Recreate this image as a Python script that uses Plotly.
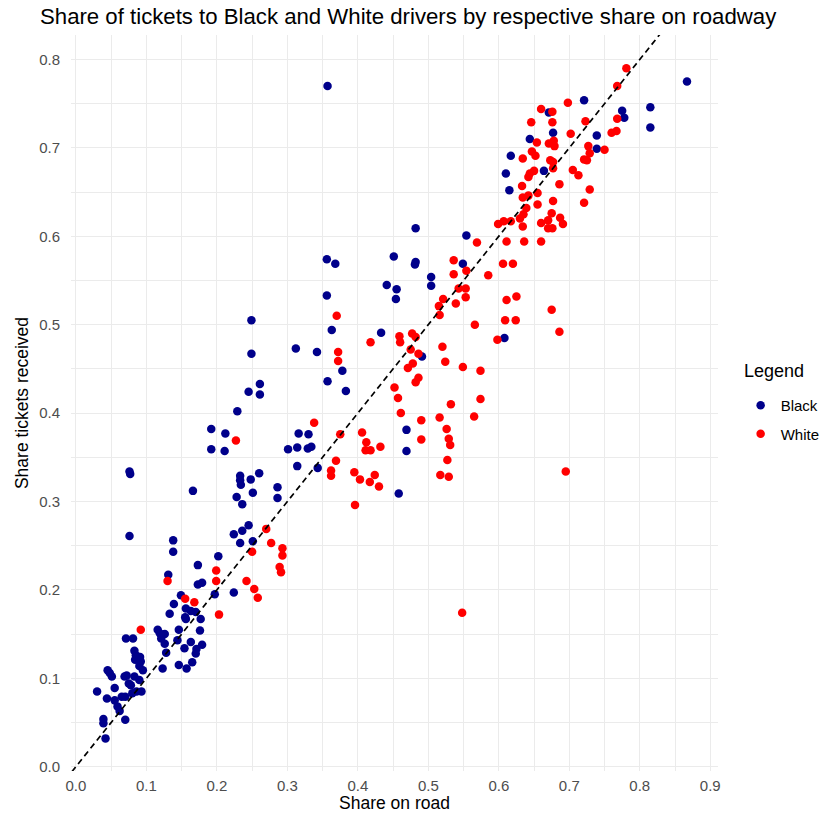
import plotly.graph_objects as go

# Black drivers: share on road vs share of tickets
black_x = [0.076, 0.138, 0.138, 0.131, 0.173, 0.173, 0.179, 0.202, 0.236, 0.245, 0.236, 0.224, 0.233, 0.251,
           0.224, 0.197, 0.149, 0.139, 0.156, 0.163, 0.170, 0.155, 0.156, 0.177, 0.133, 0.146, 0.176, 0.071,
           0.081, 0.116, 0.119, 0.126, 0.121, 0.144, 0.163, 0.179, 0.126, 0.154, 0.171, 0.170, 0.083, 0.085,
           0.084, 0.091, 0.092, 0.128, 0.090, 0.123, 0.146, 0.157, 0.165, 0.095, 0.045, 0.048, 0.051, 0.055,
           0.069, 0.072, 0.075, 0.078, 0.083, 0.090, 0.093, 0.086, 0.080, 0.070, 0.065, 0.030, 0.044, 0.055,
           0.059, 0.062, 0.070, 0.039, 0.039, 0.042,
           0.312, 0.249, 0.342, 0.378, 0.357, 0.383, 0.261, 0.245, 0.261, 0.229, 0.192, 0.212, 0.192, 0.211,
           0.316, 0.330, 0.301, 0.314, 0.329, 0.334, 0.314, 0.343, 0.166, 0.233, 0.233, 0.234, 0.248, 0.260,
           0.251, 0.228, 0.286, 0.286,
           0.482, 0.554, 0.356, 0.368, 0.451, 0.482, 0.481, 0.549, 0.504, 0.504, 0.441, 0.455, 0.454, 0.608,
           0.356, 0.363, 0.433, 0.491, 0.469, 0.469, 0.458,
           0.357, 0.249, 0.076, 0.077,
           0.867, 0.721, 0.815, 0.775, 0.778, 0.815, 0.671, 0.677, 0.644, 0.739, 0.739, 0.617, 0.664, 0.610,
           0.615]
black_y = [0.261, 0.256, 0.243, 0.217, 0.228, 0.206, 0.208, 0.238, 0.297, 0.273, 0.267, 0.263, 0.253, 0.255,
           0.197, 0.195, 0.194, 0.184, 0.179, 0.176, 0.175, 0.169, 0.167, 0.167, 0.173, 0.155, 0.154, 0.145,
           0.145, 0.155, 0.151, 0.150, 0.145, 0.143, 0.141, 0.138, 0.139, 0.134, 0.133, 0.128, 0.131, 0.126,
           0.121, 0.124, 0.119, 0.129, 0.114, 0.111, 0.115, 0.111, 0.118, 0.109, 0.109, 0.106, 0.102, 0.089,
           0.102, 0.103, 0.094, 0.092, 0.102, 0.098, 0.085, 0.085, 0.083, 0.079, 0.079, 0.085, 0.077, 0.075,
           0.068, 0.063, 0.053, 0.054, 0.049, 0.032,
           0.473, 0.467, 0.469, 0.448, 0.436, 0.425, 0.433, 0.424, 0.421, 0.402, 0.382, 0.377, 0.359, 0.357,
           0.377, 0.376, 0.359, 0.361, 0.360, 0.362, 0.340, 0.338, 0.312, 0.329, 0.324, 0.319, 0.325, 0.332,
           0.310, 0.305, 0.316, 0.304,
           0.609, 0.601, 0.574, 0.569, 0.577, 0.571, 0.568, 0.569, 0.554, 0.544, 0.545, 0.540, 0.529, 0.485,
           0.533, 0.494, 0.491, 0.464, 0.381, 0.357, 0.309,
           0.770, 0.505, 0.334, 0.331,
           0.775, 0.754, 0.746, 0.742, 0.734, 0.723, 0.740, 0.717, 0.710, 0.714, 0.699, 0.691, 0.674, 0.671,
           0.652]

# White drivers: share on road vs share of tickets
white_x = [0.130, 0.199, 0.199, 0.250, 0.242, 0.253, 0.258, 0.203, 0.155, 0.168, 0.092,
           0.372, 0.372, 0.418, 0.227, 0.338, 0.375, 0.406, 0.412, 0.411, 0.418, 0.369, 0.362, 0.362, 0.395,
           0.403, 0.417, 0.424, 0.430, 0.396, 0.270, 0.277, 0.293, 0.293, 0.289, 0.291,
           0.569, 0.606, 0.620, 0.585, 0.536, 0.536, 0.554, 0.543, 0.553, 0.553, 0.539, 0.521, 0.515, 0.516,
           0.611, 0.625, 0.609, 0.624, 0.566, 0.598, 0.370, 0.459, 0.460, 0.477, 0.482, 0.475, 0.486, 0.478,
           0.471, 0.486, 0.482, 0.520, 0.524, 0.549, 0.574, 0.574, 0.565, 0.532, 0.452, 0.457, 0.461, 0.490,
           0.516, 0.526, 0.529, 0.531, 0.490, 0.527, 0.517, 0.529, 0.432,
           0.695, 0.548, 0.675, 0.686,
           0.781, 0.768, 0.698, 0.768, 0.767, 0.760, 0.660, 0.676, 0.646, 0.676, 0.723, 0.702, 0.654, 0.671,
           0.678, 0.679, 0.750, 0.727, 0.729, 0.721, 0.725, 0.634, 0.647, 0.652, 0.673, 0.677, 0.677, 0.650,
           0.644, 0.642, 0.705, 0.713, 0.633, 0.655, 0.686, 0.729, 0.634, 0.642, 0.677, 0.721, 0.639, 0.655,
           0.635, 0.630, 0.675, 0.687, 0.691, 0.670, 0.660, 0.670, 0.676, 0.634, 0.617, 0.607, 0.599, 0.611,
           0.636, 0.660]
white_y = [0.210, 0.222, 0.210, 0.243, 0.210, 0.201, 0.191, 0.172, 0.190, 0.186, 0.155,
           0.469, 0.459, 0.480, 0.369, 0.389, 0.376, 0.378, 0.367, 0.358, 0.358, 0.346, 0.335, 0.329, 0.333,
           0.325, 0.322, 0.330, 0.317, 0.296, 0.269, 0.253, 0.247, 0.239, 0.226, 0.220,
           0.593, 0.569, 0.569, 0.556, 0.573, 0.557, 0.561, 0.541, 0.541, 0.531, 0.524, 0.529, 0.521, 0.511,
           0.528, 0.532, 0.505, 0.505, 0.500, 0.483, 0.510, 0.487, 0.480, 0.490, 0.486, 0.472, 0.467, 0.456,
           0.451, 0.440, 0.435, 0.475, 0.458, 0.452, 0.448, 0.416, 0.396, 0.410, 0.429, 0.417, 0.400, 0.392,
           0.395, 0.382, 0.371, 0.364, 0.370, 0.347, 0.330, 0.328, 0.362,
           0.334, 0.174, 0.517, 0.492,
           0.790, 0.770, 0.751, 0.733, 0.719, 0.717, 0.744, 0.741, 0.729, 0.729, 0.730, 0.716, 0.706, 0.705,
           0.708, 0.702, 0.698, 0.702, 0.694, 0.687, 0.686, 0.688, 0.696, 0.691, 0.686, 0.684, 0.677, 0.674,
           0.671, 0.667, 0.675, 0.669, 0.657, 0.649, 0.659, 0.653, 0.644, 0.646, 0.640, 0.638, 0.632, 0.636,
           0.625, 0.620, 0.626, 0.621, 0.614, 0.618, 0.615, 0.609, 0.609, 0.611, 0.617, 0.617, 0.614, 0.594,
           0.594, 0.594]

x_ticks = [0.0, 0.1, 0.2, 0.3, 0.4, 0.5, 0.6, 0.7, 0.8, 0.9]
y_ticks = [0.0, 0.1, 0.2, 0.3, 0.4, 0.5, 0.6, 0.7, 0.8]
ref_line = [-0.05, 0.95]

FONT = "Liberation Sans, Arial, sans-serif"
W, H = 829, 813

fig = go.Figure()
fig.add_trace(go.Scatter(x=black_x, y=black_y, mode="markers", name="Black", legendgroup="b",
                         marker=dict(color="#00008B", size=8.5, line=dict(width=0))))
fig.add_trace(go.Scatter(x=white_x, y=white_y, mode="markers", name="White", legendgroup="w",
                         marker=dict(color="#FF0000", size=8.5, line=dict(width=0))))
fig.add_trace(go.Scatter(x=ref_line, y=ref_line, mode="lines", showlegend=False, hoverinfo="skip",
                         line=dict(color="black", width=1.7, dash="6px,4px")))

grid = "#EBEBEB"
fig.update_layout(
    width=W, height=H,
    margin=dict(l=71, r=111, t=35, b=42, autoexpand=False),
    paper_bgcolor="white", plot_bgcolor="white",
    font=dict(family=FONT, color="black"),
    title=dict(text="Share of tickets to Black and White drivers by respective share on roadway",
               font=dict(size=22.2, color="black", family=FONT),
               x=40 / W, xref="container", xanchor="left",
               y=1 - 16 / H, yref="container", yanchor="middle"),
    xaxis=dict(range=[-0.007, 0.911], tickvals=x_ticks, ticktext=[f"{v:.1f}" for v in x_ticks],
               showgrid=True, gridcolor=grid, gridwidth=1.2, zeroline=False, showline=False,
               ticks="", ticklabelstandoff=4, automargin=False,
               tickfont=dict(size=15, color="#4D4D4D"),
               minor=dict(dtick=0.05, tick0=0.05, showgrid=True, gridcolor=grid, gridwidth=0.6),
               title=dict(text="Share on road", font=dict(size=17.5, color="black"), standoff=4)),
    yaxis=dict(range=[-0.0049, 0.8277], tickvals=y_ticks, ticktext=[f"{v:.1f}" for v in y_ticks],
               showgrid=True, gridcolor=grid, gridwidth=1.2, zeroline=False, showline=False,
               ticks="", ticklabelstandoff=10, automargin=False,
               tickfont=dict(size=15, color="#4D4D4D"),
               minor=dict(dtick=0.05, tick0=0.05, showgrid=True, gridcolor=grid, gridwidth=0.6),
               title=dict(text="Share tickets received", font=dict(size=17.5, color="black"), standoff=6)),
    legend=dict(font=dict(size=15, color="black"),
                x=1.035, xanchor="left", y=1 - (389 - 35) / 736, yanchor="top",
                tracegroupgap=6,
                bgcolor="rgba(0,0,0,0)", itemsizing="trace"),
    annotations=[dict(text="Legend", xref="paper", yref="paper",
                      x=(742 - 71) / 647, y=1 - (371 - 35) / 736,
                      xanchor="left", yanchor="middle", showarrow=False,
                      font=dict(size=18, color="black", family=FONT))],
    showlegend=True,
)

fig.write_html("out.html", config={"displayModeBar": False},
               post_script="document.body.style.margin='0';document.body.style.padding='0';")
